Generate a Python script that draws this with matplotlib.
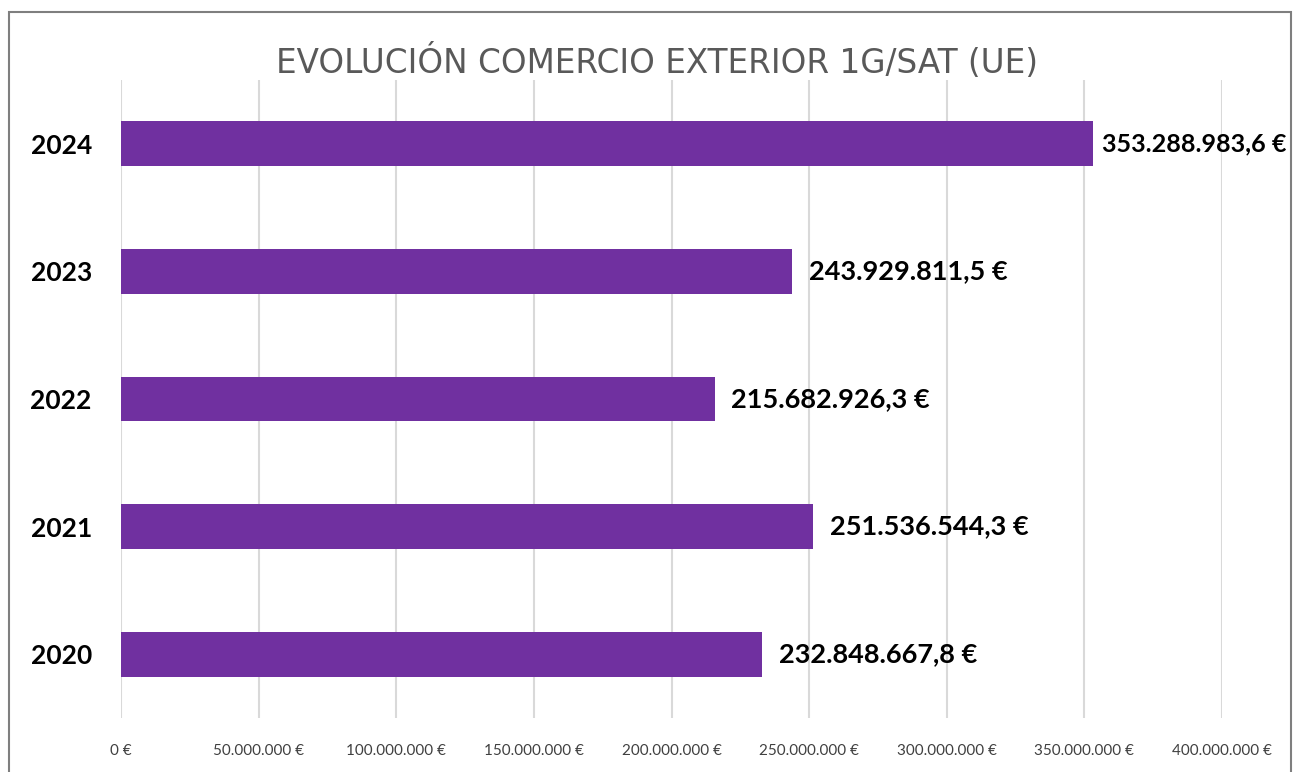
import matplotlib
matplotlib.use("Agg")
import matplotlib.pyplot as plt
from matplotlib.patches import Rectangle
from matplotlib.ticker import FuncFormatter

# Datos del gráfico
years = ["2020", "2021", "2022", "2023", "2024"]
values = [232848667.8, 251536544.3, 215682926.3, 243929811.5, 353288983.6]
x_ticks = [0, 50000000, 100000000, 150000000, 200000000,
           250000000, 300000000, 350000000, 400000000]
title = "EVOLUCIÓN COMERCIO EXTERIOR 1G/SAT (UE)"

W, H = 1295, 772


def euro(v, decimals=0):
    s = f"{v:,.{decimals}f}"
    s = s.replace(",", "X").replace(".", ",").replace("X", ".")
    return s + " €"


fig = plt.figure(figsize=(W / 100, H / 100), dpi=100)
fig.patch.set_facecolor("white")

# Marco exterior del gráfico
fig.patches.append(Rectangle((9 / W, -0.05), (1291 - 9) / W, 1.05 - 12 / H,
                             transform=fig.transFigure, fill=False,
                             edgecolor="#7f7f7f", linewidth=1.5))

ax = fig.add_axes([121 / W, 1 - 718 / H, (1222 - 121) / W, (718 - 80) / H])

ypos = list(range(len(years)))
ax.barh(ypos, values, height=0.35, color="#7030A0", zorder=3)

ax.set_xlim(0, 400000000)
ax.set_ylim(-0.5, len(years) - 0.5)
ax.set_xticks(x_ticks)
ax.xaxis.set_major_formatter(FuncFormatter(lambda v, p: euro(v)))
ax.set_yticks(ypos)
ax.set_yticklabels(years, fontsize=19, fontweight="bold", family="Lato")
ax.tick_params(axis="y", length=0, pad=21)
ax.tick_params(axis="x", length=0, pad=19, labelsize=11, labelcolor="#404040")
for lab in ax.get_xticklabels():
    lab.set_family("Lato")

ax.grid(axis="x", color="#d9d9d9", linewidth=1.5, zorder=0)
for sp in ax.spines.values():
    sp.set_visible(False)

# Etiquetas de valor (se reducen si no caben dentro del marco)
fig.canvas.draw()
renderer = fig.canvas.get_renderer()
right_px = 1286
for y, v in zip(ypos, values):
    t = ax.annotate(euro(v, 1), xy=(v, y), xytext=(12, 0),
                    textcoords="offset points", va="center", ha="left",
                    fontsize=19.5, fontweight="bold", family="Lato", color="black")
    bb = t.get_window_extent(renderer)
    if bb.x1 > right_px:
        start = ax.transData.transform((v, y))[0] + 9
        t.set_fontsize(19.5 * (right_px - start) / bb.width)
        t.set_position((9 * 72 / 100, 0))

fig.text(657 / W, 1 - 62 / H, title, ha="center", va="center",
         fontsize=23.5, color="#595959", family="DejaVu Sans")

fig.savefig("out.png", dpi=100, facecolor="white")
